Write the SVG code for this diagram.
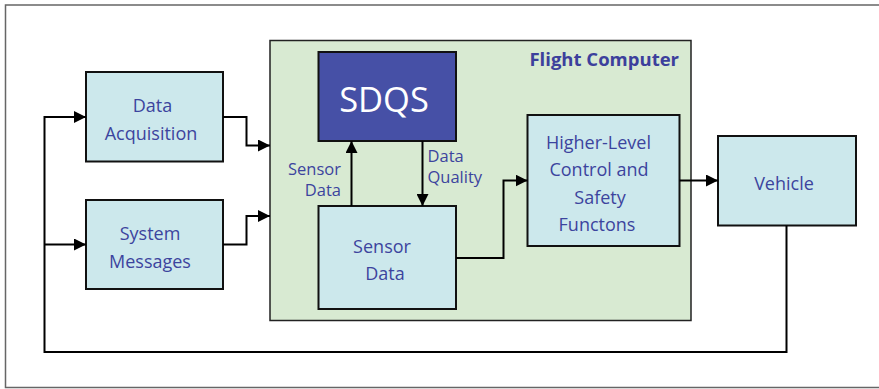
<svg xmlns="http://www.w3.org/2000/svg" width="879" height="389" viewBox="0 0 879 389">
<defs>
<marker id="arr" viewBox="0 0 10 10" refX="10" refY="5" markerWidth="12" markerHeight="12" markerUnits="userSpaceOnUse" orient="auto">
<path d="M0,0 L10,5 L0,10 z" fill="#000"/>
</marker>
<style>
.box{fill:#cce8ec;stroke:#111;stroke-width:2}
.lbl{font-family:"Open Sans","Noto Sans",sans-serif;font-size:18px;fill:#3c449e;text-anchor:middle}
.el{font-family:"Open Sans","Noto Sans",sans-serif;font-size:16.5px;fill:#3c449e}
.con{fill:none;stroke:#000;stroke-width:2;marker-end:url(#arr)}
</style>
</defs>
<rect width="879" height="389" fill="#fff"/>
<path d="M879,5 H5.5 V387.5 H879" fill="none" stroke="#666" stroke-width="1.5"/>

<g id="flight-computer">
<rect x="270" y="40.5" width="421" height="280" fill="#d8ead2" stroke="#222" stroke-width="1.5"/>
<text x="679" y="66" style="font-family:'Open Sans','Noto Sans',sans-serif;font-size:18.5px;font-weight:bold;fill:#3c409c;text-anchor:end">Flight Computer</text>
</g>

<g id="data-acquisition">
<rect class="box" x="86" y="72" width="137" height="89.5"/>
<text class="lbl" x="152.5" y="112">Data</text>
<text class="lbl" x="151" y="140">Acquisition</text>
</g>

<g id="system-messages">
<rect class="box" x="86" y="200" width="137" height="89"/>
<text class="lbl" x="150" y="240">System</text>
<text class="lbl" x="150" y="268">Messages</text>
</g>

<g id="sdqs">
<rect x="318.5" y="52" width="137.5" height="89" fill="#4650a6" stroke="#111" stroke-width="2"/>
<text x="384" y="112" style="font-family:'Open Sans','Noto Sans',sans-serif;font-size:34.5px;fill:#fff;text-anchor:middle">SDQS</text>
</g>

<g id="sensor-data">
<rect class="box" x="318.5" y="206" width="137.5" height="103"/>
<text class="lbl" x="382" y="253">Sensor</text>
<text class="lbl" x="385" y="280">Data</text>
</g>

<g id="higher-level">
<rect class="box" x="527.5" y="115" width="152" height="131"/>
<text class="lbl" x="598.5" y="149">Higher-Level</text>
<text class="lbl" x="599" y="176">Control and</text>
<text class="lbl" x="600" y="204">Safety</text>
<text class="lbl" x="597" y="231">Functons</text>
</g>

<g id="vehicle">
<rect class="box" x="718" y="136" width="138" height="89.5"/>
<text class="lbl" x="784" y="190">Vehicle</text>
</g>

<g id="connectors">
<path class="con" d="M786.5,225.5 V352 H44.5 V117 H86"/>
<path class="con" d="M44.5,244.5 H86"/>
<path class="con" d="M223,117 H246.5 V145.5 H270"/>
<path class="con" d="M223,244.5 H246.5 V216 H270"/>
<path class="con" d="M351.5,206 V141"/>
<path class="con" d="M422.5,141 V206"/>
<path class="con" d="M456,258 H503.5 V180.5 H527.5"/>
<path class="con" d="M679.5,180.5 H718"/>
<text class="el" x="341" y="175" text-anchor="end">Sensor</text>
<text class="el" x="341" y="196" text-anchor="end">Data</text>
<text class="el" x="427.5" y="162">Data</text>
<text class="el" x="427.5" y="183">Quality</text>
</g>
</svg>
